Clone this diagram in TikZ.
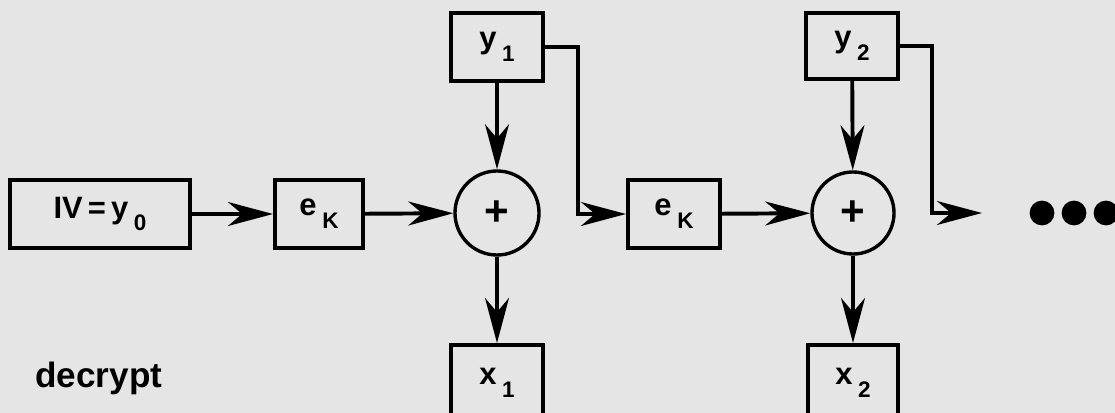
\documentclass[tikz,border=0pt]{standalone}
\usepackage{fontspec}
\setmainfont{Liberation Sans}
\usetikzlibrary{arrows.meta}
\definecolor{bg}{HTML}{E5E5E5}
\newcommand\sbs[1]{\hspace{4pt}\raisebox{-9pt}{\fontsize{16}{16}\selectfont\bfseries #1}}
\tikzset{
  bigtip/.tip={Stealth[length=32pt,width=17pt,inset=10pt]},
  blk/.style={draw,line width=2.8pt,fill=bg,inner sep=0pt,font=\fontsize{22}{22}\selectfont\bfseries},
  xorc/.style={draw,circle,line width=2.4pt,fill=bg,inner sep=0pt,minimum size=2.1cm,font=\fontsize{30}{30}\selectfont\bfseries},
  conn/.style={line width=2.8pt,-bigtip},
  dotc/.style={circle,fill=black,inner sep=0pt,minimum size=0.62cm}}
\begin{document}
\begin{tikzpicture}[x=0.025cm,y=-0.025cm]
\fill[bg] (0,0) rectangle (1115,413);
\useasboundingbox (0,0) rectangle (1115,413);
\clip (0,0) rectangle (1115,413);
% stage 0
\node[blk,minimum width=4.5cm,minimum height=1.68cm] (iv) at (100,214) {IV\,=\,y\sbs{0}};
\node[blk,minimum width=2.2cm,minimum height=1.7cm] (ek1) at (319,214) {e\sbs{K}};
% stage 1
\node[blk,minimum width=2.3cm,minimum height=1.68cm] (y1) at (497,47) {y\sbs{1}};
\node[xorc] (c1) at (497,213) {+};
\node[blk,minimum width=2.28cm,minimum height=1.9cm] (x1) at (497,383) {x\sbs{1}};
\node[blk,minimum width=2.3cm,minimum height=1.7cm] (ek2) at (674,214) {e\sbs{K}};
% stage 2
\node[blk,minimum width=2.28cm,minimum height=1.66cm] (y2) at (852,46) {y\sbs{2}};
\node[xorc,minimum size=2.05cm] (c2) at (853,213) {+};
\node[blk,minimum width=2.25cm,minimum height=1.9cm] (x2) at (853,383) {x\sbs{2}};
\coordinate (out) at (982,213);
% dots
\node[dotc] (d1) at (1042,213) {};
\node[dotc] (d2) at (1074,213) {};
\node[dotc] (d3) at (1106,213) {};
% label
\node[anchor=base west,inner sep=0pt,font=\fontsize{25}{25}\selectfont\bfseries] (lab) at (35,387) {decrypt};
% connectors
\draw[conn] (iv) -- (ek1);
\draw[conn] (ek1) -- (c1);
\draw[conn] (y1) -- (c1);
\draw[conn] (c1) -- (x1);
\draw[conn] (y1.east) -- ++(33,0) |- (ek2.west);
\draw[conn] (ek2) -- (c2);
\draw[conn] (y2) -- (c2);
\draw[conn] (c2) -- (x2);
\draw[conn] (y2.east) -- ++(32,0) |- (out);
\end{tikzpicture}
\end{document}
